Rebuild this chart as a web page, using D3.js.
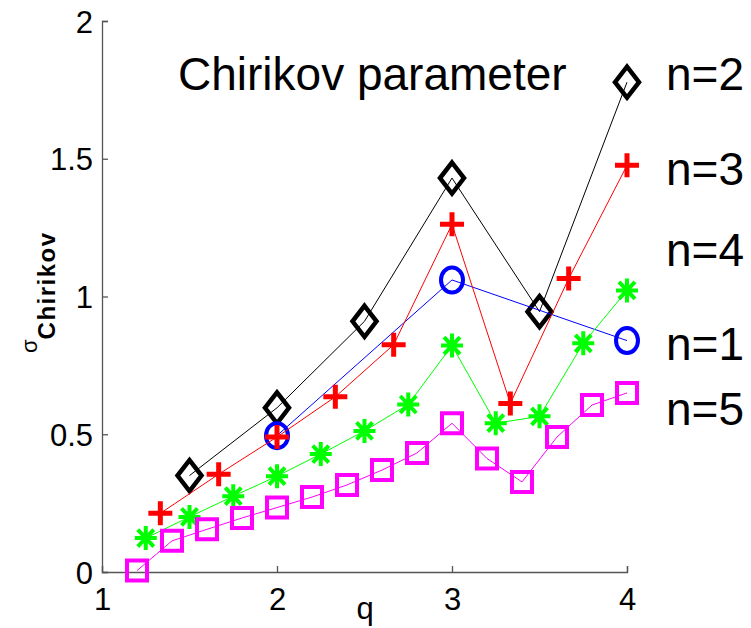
<!DOCTYPE html>
<html>
<head>
<meta charset="utf-8">
<script src="https://cdn.jsdelivr.net/npm/d3@7"></script>
<style>
  body { margin: 0; background: #fff; }
  text { font-family: "Liberation Sans", Arial, sans-serif; }
</style>
</head>
<body>
<div class="chart"></div>
<script>
// series data
var qN1 = [2, 3, 4];
var yN1 = [0.495, 1.06, 0.84];

var qN2 = [1.5, 2, 2.5, 3, 3.5, 4];
var yN2 = [0.35, 0.596, 0.91, 1.43, 0.945, 1.778];

var qN3 = [4/3, 5/3, 2, 7/3, 8/3, 3, 10/3, 11/3, 4];
var yN3 = [0.213, 0.355, 0.49, 0.636, 0.825, 1.262, 0.612, 1.065, 1.476];

var qN4 = [1.25, 1.5, 1.75, 2, 2.25, 2.5, 2.75, 3, 3.25, 3.5, 3.75, 4];
var yN4 = [0.123, 0.2, 0.275, 0.348, 0.428, 0.512, 0.608, 0.822, 0.54, 0.565, 0.83, 1.022];

var qN5 = [1.2, 1.4, 1.6, 1.8, 2, 2.2, 2.4, 2.6, 2.8, 3, 3.2, 3.4, 3.6, 3.8, 4];
var yN5 = [0.005, 0.113, 0.155, 0.196, 0.234, 0.272, 0.316, 0.37, 0.432, 0.54, 0.412, 0.327, 0.49, 0.606, 0.65];

var xTicks = [1, 2, 3, 4];
var yTicks = [0, 0.5, 1, 1.5, 2];
var yTickLabels = ["0", "0.5", "1", "1.5", "2"];

var title = "Chirikov parameter";
var seriesNames = ["n=2", "n=3", "n=4", "n=1", "n=5"];

function zip(qs, ys) {
    return qs.map(function(q, i) { return {q: q, v: ys[i]}; });
}

// drawing order: n=2 first so blue line sits over it, red on top of blue
var series = [
    {name: "n=2", pts: zip(qN2, yN2), color: "#000000", marker: "diamond"},
    {name: "n=1", pts: zip(qN1, yN1), color: "#0000ff", marker: "circle"},
    {name: "n=3", pts: zip(qN3, yN3), color: "#ff0000", marker: "plus"},
    {name: "n=4", pts: zip(qN4, yN4), color: "#00ff00", marker: "star"},
    {name: "n=5", pts: zip(qN5, yN5), color: "#ff00ff", marker: "square"}
];

var width = 751, height = 628;

var svg = d3.select(".chart")
    .append("svg")
    .attr("width", width)
    .attr("height", height);

var x = d3.scaleLinear().domain([1, 4]).range([102, 627]);
var y = d3.scaleLinear().domain([0, 2]).range([572, 21]);

var axisColor = "#555";

// y axis (ticks pointing inward)
var yAxis = svg.append("g")
    .attr("transform", "translate(" + x(1) + ",0)")
    .call(d3.axisRight(y).tickValues(yTicks).tickSize(6)
        .tickFormat(function(d, i) { return yTickLabels[i]; }));
yAxis.select(".domain").attr("stroke", axisColor).attr("stroke-width", 1.3);
yAxis.selectAll(".tick line").attr("stroke", axisColor).attr("stroke-width", 1.3);
yAxis.selectAll(".tick text")
    .attr("x", -9)
    .attr("dy", "0.36em")
    .attr("text-anchor", "end")
    .style("font-size", "31px")
    .attr("fill", "#000");

// x axis
var xAxis = svg.append("g")
    .attr("transform", "translate(0," + y(0) + ")")
    .call(d3.axisTop(x).tickValues(xTicks).tickSize(6).tickFormat(d3.format("d")));
xAxis.select(".domain").attr("stroke", axisColor).attr("stroke-width", 1.3);
xAxis.selectAll(".tick line").attr("stroke", axisColor).attr("stroke-width", 1.3);
xAxis.selectAll(".tick text")
    .attr("y", 38)
    .attr("dy", 0)
    .style("font-size", "31px")
    .attr("fill", "#000");

// axis labels
svg.append("text")
    .attr("x", 365)
    .attr("y", 619)
    .attr("text-anchor", "middle")
    .style("font-size", "31px")
    .text("q");

var yLabel = svg.append("text")
    .attr("transform", "translate(37,353) rotate(-90)")
    .style("font-size", "22px");
yLabel.append("tspan").text("\u03c3");
yLabel.append("tspan")
    .attr("dy", 18)
    .style("font-size", "24px")
    .style("font-weight", "bold")
    .style("letter-spacing", "1.5px")
    .text("Chirikov");

var line = d3.line()
    .x(function(d) { return x(d.q); })
    .y(function(d) { return y(d.v); });

var symbols = {
    diamond: "M0,-15.5L12,0L0,15.5L-12,0Z",
    circle: "M11,0A11,12.5 0 1 1 -11,0A11,12.5 0 1 1 11,0Z",
    plus: "M-12,0H12M0,-12V12",
    star: "M0,-12V12M-11,0H11M-8,-8.5L8,8.5M-8,8.5L8,-8.5",
    square: "M-10,-10H10V10H-10Z"
};
var markerWidth = {diamond: 4.5, circle: 4, plus: 5, star: 4, square: 4};

var groups = svg.selectAll(".series")
    .data(series)
    .enter().append("g")
    .attr("class", "series");

groups.append("path")
    .attr("d", function(d) { return line(d.pts); })
    .attr("fill", "none")
    .attr("stroke", function(d) { return d.color; })
    .attr("stroke-width", 1);

groups.each(function(s) {
    d3.select(this).selectAll(".mark")
        .data(s.pts)
        .enter().append("path")
        .attr("class", "mark")
        .attr("transform", function(d) { return "translate(" + x(d.q) + "," + y(d.v) + ")"; })
        .attr("d", symbols[s.marker])
        .attr("fill", "none")
        .attr("stroke", s.color)
        .attr("stroke-width", markerWidth[s.marker]);
});

// title and series labels
svg.append("text")
    .attr("x", 178)
    .attr("y", 90)
    .style("font-size", "46px")
    .text(title);

var labelY = [90, 185, 266, 360, 425];
svg.selectAll(".nlabel")
    .data(seriesNames)
    .enter().append("text")
    .attr("class", "nlabel")
    .attr("x", 666)
    .attr("y", function(d, i) { return labelY[i]; })
    .style("font-size", "46px")
    .text(function(d) { return d; });
</script>
</body>
</html>
